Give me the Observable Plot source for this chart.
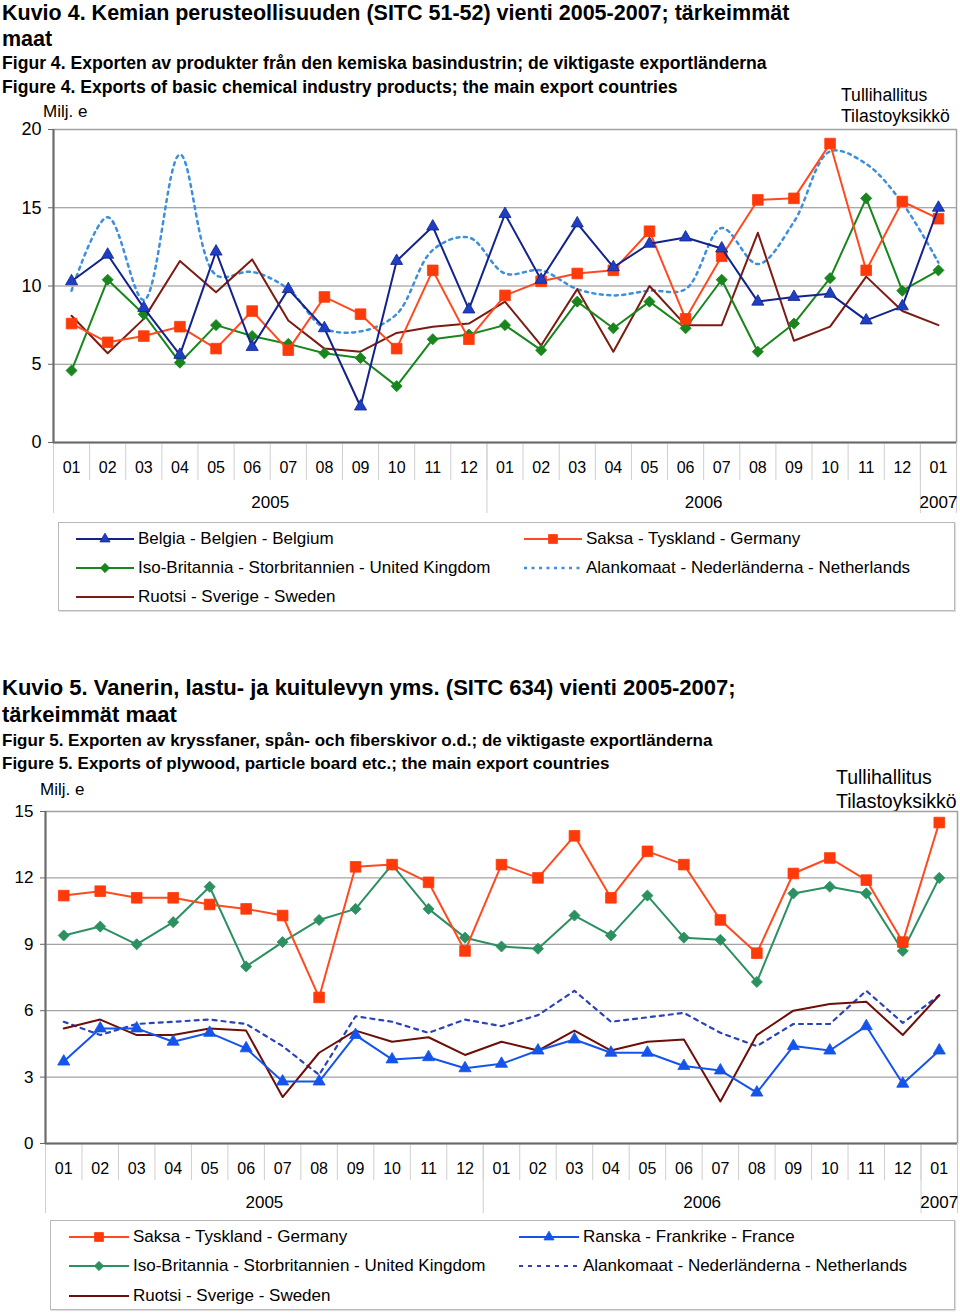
<!DOCTYPE html>
<html><head><meta charset="utf-8">
<script src="https://cdn.jsdelivr.net/npm/d3@7"></script>
<script src="https://cdn.jsdelivr.net/npm/@observablehq/plot@0.6"></script>
<style>
body{margin:0;background:#fff;font-family:"Liberation Sans",Arial,Helvetica,sans-serif;color:#000}
#page{position:relative;width:960px;height:1313px;overflow:hidden;background:#fff}
.t{position:absolute;white-space:nowrap}
.legend{position:absolute;border:1px solid #b8b8b8;box-shadow:1px 1px 1px #e0e0e0;box-sizing:border-box}
.item{position:absolute;display:flex;align-items:center;white-space:nowrap;font-size:17px;height:20px}
.chart{position:absolute;left:0}
</style></head><body><div id="page"></div>
<script>
// ---------- shared axis labels ----------
const monthLabels = ["01","02","03","04","05","06","07","08","09","10","11","12",
                     "01","02","03","04","05","06","07","08","09","10","11","12","01"];
const yearLabels = ["2005","2006","2007"];
const monthsPerYear = [12, 12, 1];

// ---------- Chart 1 (SITC 51-52) ----------
const c1Ticks = [0, 5, 10, 15, 20];
const c1Belgium     = [10.3,12.0,8.6,5.6,12.2,6.1,9.8,7.3,2.3,11.6,13.8,8.5,14.6,10.4,14.0,11.2,12.7,13.1,12.4,9.0,9.3,9.5,7.8,8.7,15.0];
const c1Germany     = [7.6,6.4,6.8,7.4,6.0,8.4,5.9,9.3,8.2,6.0,11.0,6.6,9.4,10.3,10.8,11.0,13.5,7.9,11.9,15.5,15.6,19.1,11.0,15.4,14.3];
const c1UK          = [4.6,10.4,8.2,5.1,7.5,6.8,6.3,5.7,5.4,3.6,6.6,6.9,7.5,5.9,9.0,7.3,9.0,7.3,10.4,5.8,7.6,10.5,15.6,9.7,11.0];
const c1Netherlands = [9.7,14.4,9.1,18.4,10.7,10.9,9.8,7.3,7.1,8.2,12.3,13.1,10.8,11.0,9.8,9.4,9.7,9.8,13.7,11.4,14.1,18.6,17.8,15.3,11.5];
const c1Sweden      = [8.1,5.7,7.9,11.6,9.6,11.7,7.8,6.0,5.8,7.0,7.4,7.6,9.0,6.2,9.8,5.8,10.0,7.5,7.5,13.4,6.5,7.4,10.6,8.4,7.5];

// ---------- Chart 2 (SITC 634) ----------
const c2Ticks = [0, 3, 6, 9, 12, 15];
const c2Germany     = [11.2,11.4,11.1,11.1,10.8,10.6,10.3,6.6,12.5,12.6,11.8,8.7,12.6,12.0,13.9,11.1,13.2,12.6,10.1,8.6,12.2,12.9,11.9,9.1,14.5];
const c2France      = [3.7,5.2,5.2,4.6,5.0,4.3,2.8,2.8,4.9,3.8,3.9,3.4,3.6,4.2,4.7,4.1,4.1,3.5,3.3,2.3,4.4,4.2,5.3,2.7,4.2];
const c2UK          = [9.4,9.8,9.0,10.0,11.6,8.0,9.1,10.1,10.6,12.6,10.6,9.3,8.9,8.8,10.3,9.4,11.2,9.3,9.2,7.3,11.3,11.6,11.3,8.7,12.0];
const c2Netherlands = [5.5,4.9,5.4,5.5,5.6,5.4,4.4,3.1,5.75,5.5,5.0,5.6,5.3,5.8,6.9,5.5,5.7,5.9,5.0,4.4,5.4,5.4,6.9,5.45,6.7];
const c2Sweden      = [5.2,5.6,4.9,4.9,5.2,5.1,2.1,4.1,5.1,4.6,4.8,4.0,4.6,4.2,5.1,4.2,4.6,4.7,1.9,4.9,6.0,6.3,6.4,4.9,6.7];

const FONT = '"Liberation Sans", Arial, Helvetica, sans-serif';
const page = document.getElementById("page");

function addText(html, css) {
  const d = document.createElement("div");
  d.className = "t";
  d.innerHTML = html;
  Object.assign(d.style, css);
  page.appendChild(d);
}

function lineChart(cfg) {
  const n = monthLabels.length;
  const yearBounds = Array.from(d3.cumsum([0, ...monthsPerYear]));
  const yearCenters = yearLabels.map((_, k) => (yearBounds[k] + yearBounds[k + 1]) / 2);
  const monthTicks = d3.range(n).map(i => i + 0.5);
  const yT = cfg.yTicks;
  const marks = [
    Plot.gridY(yT.filter(t => t > yT[0] && t < yT[yT.length - 1]), {stroke: "#8c8c8c", strokeOpacity: 1}),
    Plot.frame({stroke: "#a0a0a0", strokeWidth: 1.5}),
    Plot.axisX(d3.range(n + 1), {tickSize: cfg.monthSep, tickFormat: () => "", stroke: "#cfcfcf", label: null}),
    Plot.axisX(yearBounds, {tickSize: cfg.yearSep, tickFormat: () => "", stroke: "#cfcfcf", label: null}),
    Plot.axisX(monthTicks, {tickSize: 0, tickPadding: cfg.monthPad, fontSize: 16, fill: "#000", label: null,
      tickFormat: v => monthLabels[Math.floor(v)]}),
    Plot.axisX(yearCenters, {tickSize: 0, tickPadding: cfg.yearPad, fontSize: 17, fill: "#000", label: null,
      tickFormat: v => yearLabels[yearCenters.indexOf(v)]}),
    Plot.axisY(yT, {tickSize: 5, tickPadding: 7, fontSize: cfg.yFont, stroke: "#666", fill: "#000", label: null}),
    Plot.ruleY([yT[0]], {stroke: "#6a6a6a", strokeWidth: 2}),
    Plot.ruleX([0], {stroke: "#6a6a6a", strokeWidth: 2})
  ];
  for (const s of cfg.series) {
    const data = s.values.map((v, i) => ({i, value: v}));
    marks.push(Plot.line(data, {x: d => d.i + 0.5, y: "value", stroke: s.color, strokeWidth: s.width || 2,
      strokeDasharray: s.dash, curve: s.curve || "linear"}));
    if (s.symbol) marks.push(Plot.dot(data, {x: d => d.i + 0.5, y: "value", symbol: s.symbol, r: s.r,
      fill: s.fill, stroke: s.stroke || s.fill, strokeWidth: 0.8}));
  }
  const svg = Plot.plot({
    width: 960, height: cfg.height,
    marginTop: cfg.marginTop, marginBottom: cfg.marginBottom,
    marginLeft: cfg.marginLeft, marginRight: cfg.marginRight,
    x: {domain: [0, n], axis: null, label: null},
    y: {domain: [yT[0], yT[yT.length - 1]], axis: null, label: null},
    style: {fontFamily: FONT, fontSize: "16px", color: "#000", background: "transparent", overflow: "visible"},
    marks
  });
  svg.classList.add("chart");
  svg.style.position = "absolute";
  svg.style.top = cfg.top + "px";
  svg.style.left = "0px";
  page.appendChild(svg);
}

const symbolTypes = {triangle: d3.symbolTriangle, square: d3.symbolSquare, diamond2: d3.symbolDiamond2};

function legend(box, rows) {
  const L = document.createElement("div");
  L.className = "legend";
  Object.assign(L.style, {left: box.left + "px", top: box.top + "px", width: box.width + "px", height: box.height + "px"});
  rows.forEach((row, ri) => {
    row.forEach((s, ci) => {
      if (!s) return;
      const it = document.createElement("div");
      it.className = "item";
      Object.assign(it.style, {left: box.cols[ci] + "px", top: (box.rowCenters[ri] - 10) + "px"});
      const w = box.sampleW;
      let inner = `<line x1="0" x2="${w}" y1="10" y2="10" stroke="${s.color}" stroke-width="${s.width || 2}"` +
        (s.dash ? ` stroke-dasharray="${s.dash}"` : "") + `/>`;
      if (s.symbol) {
        const p = d3.symbol(symbolTypes[s.symbol], Math.PI * s.r * s.r * 0.7)();
        inner += `<path transform="translate(${w / 2},10)" d="${p}" fill="${s.fill}" stroke="${s.stroke || s.fill}" stroke-width="0.8"/>`;
      }
      it.innerHTML = `<svg width="${w}" height="20" style="margin-right:${box.gap}px;overflow:visible">${inner}</svg><span>${s.label}</span>`;
      L.appendChild(it);
    });
  });
  page.appendChild(L);
}

// ---------- Chart 1 ----------
addText("Kuvio 4. Kemian perusteollisuuden (SITC 51-52) vienti 2005-2007; tärkeimmät<br>maat",
  {left: "2px", top: "0px", fontSize: "21.5px", lineHeight: "26px", fontWeight: "bold"});
addText("Figur 4. Exporten av produkter från den kemiska basindustrin; de viktigaste exportländerna<br>Figure 4. Exports of basic chemical industry products; the main export countries",
  {left: "2px", top: "51px", fontSize: "17.6px", lineHeight: "24px", fontWeight: "bold"});
addText("Milj. e", {left: "43px", top: "102px", fontSize: "17px", lineHeight: "20px"});
addText("Tullihallitus<br>Tilastoyksikkö", {left: "841px", top: "85px", fontSize: "17.6px", lineHeight: "21px"});

const s1 = {
  belgium: {label: "Belgia - Belgien - Belgium", values: c1Belgium, color: "#14238c", symbol: "triangle", r: 4.5, fill: "#1d3fc4", stroke: "#14238c"},
  germany: {label: "Saksa - Tyskland - Germany", values: c1Germany, color: "#ff4a20", symbol: "square", r: 6, fill: "#ff3a0a"},
  uk: {label: "Iso-Britannia - Storbritannien - United Kingdom", values: c1UK, color: "#18861c", symbol: "diamond2", r: 5, fill: "#18861c"},
  nl: {label: "Alankomaat - Nederländerna - Netherlands", values: c1Netherlands, color: "#3d8fdc", dash: "3,4.5", width: 2.5, curve: "catmull-rom"},
  sweden: {label: "Ruotsi - Sverige - Sweden", values: c1Sweden, color: "#7b1b12"}
};
lineChart({
  top: 100, height: 422, marginTop: 29, marginBottom: 80, marginLeft: 53, marginRight: 4,
  yTicks: c1Ticks, yFont: 18, monthSep: 38, yearSep: 71, monthPad: 19, yearPad: 53,
  series: [s1.nl, s1.sweden, s1.uk, s1.germany, s1.belgium]
});
legend({left: 58, top: 522, width: 897, height: 89, cols: [17, 465], rowCenters: [16, 45, 74], sampleW: 58, gap: 4},
  [[s1.belgium, s1.germany], [s1.uk, s1.nl], [s1.sweden, null]]);

// ---------- Chart 2 ----------
addText("Kuvio 5. Vanerin, lastu- ja kuitulevyn yms. (SITC 634) vienti 2005-2007;<br>tärkeimmät maat",
  {left: "2px", top: "674px", fontSize: "22px", lineHeight: "27px", fontWeight: "bold"});
addText("Figur 5. Exporten av kryssfaner, spån- och fiberskivor o.d.; de viktigaste exportländerna<br>Figure 5. Exports of plywood, particle board etc.; the main export countries",
  {left: "2px", top: "729px", fontSize: "17px", lineHeight: "23px", fontWeight: "bold"});
addText("Milj. e", {left: "40px", top: "780px", fontSize: "17px", lineHeight: "20px"});
addText("Tullihallitus<br>Tilastoyksikkö", {left: "836px", top: "765px", fontSize: "19.5px", lineHeight: "24px"});

const s2 = {
  germany: {label: "Saksa - Tyskland - Germany", values: c2Germany, color: "#ff4a20", symbol: "square", r: 6, fill: "#ff3a0a"},
  france: {label: "Ranska - Frankrike - France", values: c2France, color: "#1454ea", symbol: "triangle", r: 4.5, fill: "#1454ea"},
  uk: {label: "Iso-Britannia - Storbritannien - United Kingdom", values: c2UK, color: "#2c9060", symbol: "diamond2", r: 5, fill: "#2c9060"},
  nl: {label: "Alankomaat - Nederländerna - Netherlands", values: c2Netherlands, color: "#2a44b8", dash: "4,5", width: 2.2},
  sweden: {label: "Ruotsi - Sverige - Sweden", values: c2Sweden, color: "#6e0e08"}
};
lineChart({
  top: 790, height: 429, marginTop: 21, marginBottom: 76, marginLeft: 45, marginRight: 3,
  yTicks: c2Ticks, yFont: 17, monthSep: 37, yearSep: 70, monthPad: 19, yearPad: 52,
  series: [s2.nl, s2.sweden, s2.france, s2.uk, s2.germany]
});
legend({left: 50, top: 1220, width: 905, height: 90, cols: [18, 468], rowCenters: [16, 45, 75], sampleW: 60, gap: 4},
  [[s2.germany, s2.france], [s2.uk, s2.nl], [s2.sweden, null]]);
</script></body></html>
